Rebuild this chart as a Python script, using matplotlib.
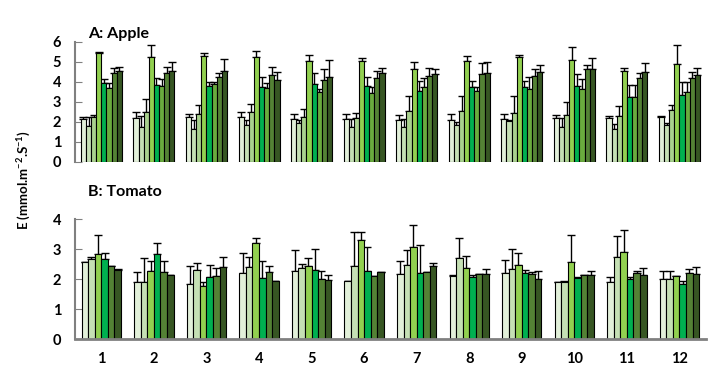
import matplotlib.pyplot as plt
import numpy as np

# months / sampling dates 1..12
groups = [str(i) for i in range(1, 13)]

apple_colors = ['#E2F0D9', '#C5E0B4', '#A9D18E', '#92D050',
                '#00B050', '#6AAB3E', '#548235', '#375623']
tomato_colors = ['#E2F0D9', '#C5E0B4', '#92D050', '#00B050',
                 '#548235', '#375623']

# A: Apple - 8 treatments per group
apple_mean = [
    [2.12, 1.78, 2.25, 5.42, 3.92, 3.67, 4.42, 4.55],
    [2.17, 1.75, 2.50, 5.22, 3.82, 3.78, 4.45, 4.53],
    [2.25, 1.62, 2.37, 5.28, 3.78, 3.87, 4.22, 4.53],
    [2.22, 1.82, 2.48, 5.22, 3.72, 3.67, 4.33, 4.08],
    [2.12, 1.92, 2.25, 5.02, 3.87, 3.47, 4.07, 4.25],
    [2.12, 1.72, 2.20, 5.02, 3.80, 3.42, 4.17, 4.42],
    [2.08, 1.72, 2.52, 4.62, 3.52, 3.72, 4.30, 4.37],
    [2.07, 1.83, 2.52, 5.02, 3.75, 3.55, 4.37, 4.42],
    [2.12, 2.03, 2.42, 5.22, 3.75, 3.62, 4.30, 4.47],
    [2.17, 1.75, 2.35, 5.07, 3.80, 3.62, 4.65, 4.65],
    [2.17, 1.62, 2.30, 4.52, 3.25, 3.25, 4.17, 4.47],
    [2.22, 1.82, 2.57, 4.87, 3.35, 3.47, 4.17, 4.32],
]
apple_err = [
    [0.13, 0.47, 0.08, 0.08, 0.20, 0.25, 0.25, 0.20],
    [0.33, 0.55, 0.62, 0.61, 0.35, 0.34, 0.30, 0.47],
    [0.13, 0.46, 0.45, 0.14, 0.22, 0.13, 0.20, 0.59],
    [0.25, 0.26, 0.39, 0.31, 0.53, 0.25, 0.42, 0.39],
    [0.28, 0.15, 0.40, 0.30, 0.55, 0.18, 0.55, 0.82],
    [0.28, 0.43, 0.25, 0.18, 0.45, 0.33, 0.38, 0.25],
    [0.27, 0.40, 0.78, 0.38, 0.53, 0.45, 0.40, 0.25],
    [0.33, 0.17, 0.75, 0.25, 0.27, 0.20, 0.58, 0.56],
    [0.28, 0.04, 0.88, 0.10, 0.30, 0.63, 0.35, 0.35],
    [0.18, 0.45, 0.62, 0.65, 0.57, 0.53, 0.17, 0.52],
    [0.13, 0.28, 0.50, 0.18, 0.57, 0.57, 0.25, 0.45],
    [0.08, 0.13, 0.28, 0.95, 0.65, 0.53, 0.33, 0.38],
]

# B: Tomato - 6 treatments per group
tomato_mean = [
    [2.57, 2.68, 2.83, 2.67, 2.46, 2.30],
    [1.90, 1.90, 2.28, 2.83, 2.23, 2.16],
    [1.83, 2.30, 1.79, 2.07, 2.10, 2.40],
    [2.21, 2.40, 3.20, 2.06, 2.23, 1.93],
    [2.28, 2.37, 2.43, 2.30, 2.00, 1.97],
    [1.93, 2.43, 3.30, 2.28, 2.11, 2.23],
    [2.17, 2.47, 3.07, 2.20, 2.26, 2.43],
    [2.10, 2.70, 2.37, 2.08, 2.17, 2.17],
    [2.20, 2.33, 2.47, 2.22, 2.17, 2.00],
    [1.90, 1.92, 2.57, 2.03, 2.16, 2.13],
    [1.90, 2.73, 2.90, 2.02, 2.20, 2.13],
    [2.00, 2.00, 2.12, 1.86, 2.22, 2.17],
]
tomato_err = [
    [0.00, 0.08, 0.65, 0.20, 0.00, 0.06],
    [0.33, 0.80, 0.32, 0.39, 0.39, 0.00],
    [0.63, 0.23, 0.13, 0.42, 0.29, 0.33],
    [0.66, 0.36, 0.19, 0.54, 0.23, 0.00],
    [0.68, 0.13, 0.29, 0.72, 0.27, 0.19],
    [0.00, 1.16, 0.26, 0.81, 0.00, 0.00],
    [0.45, 0.49, 0.73, 0.93, 0.00, 0.10],
    [0.06, 0.69, 0.42, 0.05, 0.02, 0.16],
    [0.46, 0.69, 0.42, 0.10, 0.09, 0.27],
    [0.00, 0.01, 0.90, 0.06, 0.00, 0.14],
    [0.17, 0.70, 0.73, 0.07, 0.07, 0.24],
    [0.28, 0.27, 0.00, 0.08, 0.11, 0.23],
]

plt.rcParams['font.family'] = ['Lato', 'DejaVu Sans']
plt.rcParams['font.weight'] = 'bold'
plt.rcParams['mathtext.fontset'] = 'custom'
plt.rcParams['mathtext.bf'] = 'Lato:bold'
plt.rcParams['mathtext.rm'] = 'Lato:bold'


def draw_panel(ax, means, errs, colors, group_width):
    means = np.array(means)
    errs = np.array(errs)
    n = means.shape[1]
    w = group_width / n
    x = np.arange(len(groups))
    for j in range(n):
        pos = x - group_width / 2 + w * (j + 0.5)
        ax.bar(pos, means[:, j], width=w, color=colors[j],
               edgecolor='black', linewidth=0.8, zorder=2)
        ax.errorbar(pos, means[:, j], yerr=[np.zeros(len(x)), errs[:, j]],
                    fmt='none', ecolor='black', elinewidth=1.0,
                    capsize=3, capthick=1.0, zorder=1)
    ax.set_xlim(-0.5, len(groups) - 0.5)
    for s in ['top', 'right']:
        ax.spines[s].set_visible(False)
    ax.spines['left'].set_color('#808080')
    ax.spines['left'].set_linewidth(1.5)
    ax.tick_params(axis='y', direction='in', length=5, color='#808080',
                   labelsize=10.5, pad=10)


fig = plt.figure(figsize=(7.15, 3.78), dpi=100)

ax1 = fig.add_axes([0.105, 0.572, 0.882, 0.318])
draw_panel(ax1, apple_mean, apple_err, apple_colors, 0.78)
ax1.set_ylim(0, 6)
ax1.set_yticks(range(0, 7))
ax1.spines['bottom'].set_visible(False)
ax1.set_xticks([])
ax1.text(0.02, 1.065, 'A: Apple', transform=ax1.transAxes, fontsize=11.5,
         fontweight='bold', va='center', ha='left')

ax2 = fig.add_axes([0.105, 0.102, 0.882, 0.318])
draw_panel(ax2, tomato_mean, tomato_err, tomato_colors, 0.75)
ax2.set_ylim(0, 4)
ax2.set_yticks(range(0, 5))
ax2.spines['bottom'].set_color('#808080')
ax2.spines['bottom'].set_linewidth(2)
ax2.set_xticks(np.arange(len(groups)))
ax2.set_xticklabels(groups)
ax2.tick_params(axis='x', length=0, labelsize=10.5, pad=9)
ax2.text(0.02, 1.23, 'B: Tomato', transform=ax2.transAxes, fontsize=11.5,
         fontweight='bold', va='center', ha='left')

fig.text(0.034, 0.524, 'E (mmol.m$^{\\mathbf{-2}}$.S$^{\\mathbf{-1}}$)',
         rotation=90, va='center', ha='center', fontsize=9.5, fontweight='bold')

fig.savefig('out.png', dpi=100)
